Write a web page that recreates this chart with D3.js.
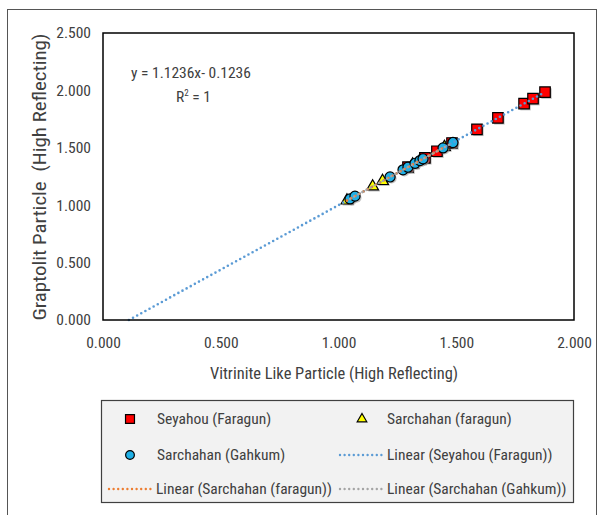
<!DOCTYPE html>
<html>
<head>
<meta charset="utf-8">
<script src="https://cdn.jsdelivr.net/npm/d3@7"></script>
<style>
  body { margin: 0; background: #fff; }
  text { font-family: "Liberation Sans Narrow", "Roboto Condensed", Roboto, sans-serif; fill: #404040; }
</style>
</head>
<body>
<div id="container"></div>
<script>
// data
var seyahouX = [1.295, 1.367, 1.418, 1.482, 1.588, 1.677, 1.788, 1.826, 1.877];
var seyahouY = [1.331, 1.413, 1.470, 1.542, 1.661, 1.761, 1.885, 1.928, 1.985];
var faragunX = [1.036, 1.145, 1.187, 1.315, 1.345, 1.450];
var faragunY = [1.040, 1.163, 1.210, 1.354, 1.388, 1.506];
var gahkumX = [1.049, 1.070, 1.219, 1.274, 1.295, 1.325, 1.346, 1.359, 1.444, 1.486];
var gahkumY = [1.055, 1.079, 1.246, 1.308, 1.331, 1.365, 1.389, 1.404, 1.499, 1.546];
var xTicks = [0, 0.5, 1.0, 1.5, 2.0];
var yTicks = [0, 0.5, 1.0, 1.5, 2.0, 2.5];
var trendSlope = 1.1236, trendIntercept = -0.1236;
var legendNames = ["Seyahou (Faragun)", "Sarchahan (faragun)", "Sarchahan (Gahkum)",
  "Linear (Seyahou (Faragun))", "Linear (Sarchahan (faragun))", "Linear (Sarchahan (Gahkum))"];

var width = 600, height = 515;
var svg = d3.select("#container").append("svg")
  .attr("width", width).attr("height", height);

// outer chart border
svg.append("rect")
  .attr("x", 7.5).attr("y", 9.5).attr("width", 589).attr("height", 520)
  .attr("fill", "none").attr("stroke", "#555").attr("stroke-width", 1);

var x = d3.scaleLinear().domain([0, 2]).range([103, 574]);
var y = d3.scaleLinear().domain([0, 2.5]).range([320, 33]);

svg.append("g")
  .attr("transform", "translate(0,328)")
  .call(d3.axisBottom(x).tickValues(xTicks).tickFormat(d3.format(".3f")).tickSize(0).tickPadding(9))
  .call(g => g.select(".domain").remove())
  .selectAll("text").style("font-size", "15.5px").attr("fill", "#404040");

svg.append("g")
  .attr("transform", "translate(97,0)")
  .call(d3.axisLeft(y).tickValues(yTicks).tickFormat(d3.format(".3f")).tickSize(0).tickPadding(6))
  .call(g => g.select(".domain").remove())
  .selectAll("text").style("font-size", "15.5px").attr("fill", "#404040");

svg.append("text")
  .attr("x", 334).attr("y", 379)
  .attr("textLength", 248).attr("lengthAdjust", "spacingAndGlyphs")
  .style("text-anchor", "middle").style("font-size", "16.5px")
  .text("Vitrinite Like Particle (High Reflecting)");

svg.append("text")
  .attr("transform", "translate(46,177) rotate(-90)")
  .attr("textLength", 287).attr("lengthAdjust", "spacingAndGlyphs")
  .style("text-anchor", "middle").style("font-size", "18px")
  .text("Graptolit Particle\u00a0 (High Reflecting)");

function fit(xs, ys) {
  var mx = d3.mean(xs), my = d3.mean(ys);
  var sxy = d3.sum(xs, (v, i) => (v - mx) * (ys[i] - my));
  var sxx = d3.sum(xs, v => (v - mx) * (v - mx));
  var m = sxy / sxx;
  return [m, my - m * mx];
}

var line = d3.line().x(d => x(d[0])).y(d => y(d[1]));
function trend(x0, x1, m, b, color) {
  svg.append("path")
    .attr("d", line([[x0, m * x0 + b], [x1, m * x1 + b]]))
    .attr("fill", "none").attr("stroke", color)
    .attr("stroke-width", 2.6).attr("stroke-linecap", "round")
    .attr("stroke-dasharray", "0,4.7");
}

var shadow = "#9a9a9a";
function drawPoints(xs, ys, type, size, fill) {
  var sym = d3.symbol().type(type).size(size);
  var pts = xs.map((v, i) => [v, ys[i]]);
  svg.append("g").selectAll("path").data(pts).enter().append("path")
    .attr("transform", d => "translate(" + (x(d[0]) + 1.5) + "," + (y(d[1]) + 1.5) + ")")
    .attr("d", sym).attr("fill", shadow).attr("opacity", 0.6);
  svg.append("g").selectAll("path").data(pts).enter().append("path")
    .attr("transform", d => "translate(" + x(d[0]) + "," + y(d[1]) + ")")
    .attr("d", sym).attr("fill", fill)
    .attr("stroke", "#000").attr("stroke-width", 1.2);
}

drawPoints(seyahouX, seyahouY, d3.symbolSquare, 110, "#ff0000");
drawPoints(faragunX, faragunY, d3.symbolTriangle, 60, "#ffff00");
drawPoints(gahkumX, gahkumY, d3.symbolCircle, 80, "#1fb0e6");

trend(-trendIntercept / trendSlope, d3.max(seyahouX), trendSlope, trendIntercept, "#5b9bd5");
var fo = fit(faragunX, faragunY);
trend(d3.min(faragunX), d3.max(faragunX), fo[0], fo[1], "#ed7d31");
var fg = fit(gahkumX, gahkumY);
trend(d3.min(gahkumX), d3.max(gahkumX), fg[0], fg[1], "#a5a5a5");

// plot area border
svg.append("rect")
  .attr("x", x(0)).attr("y", y(2.5))
  .attr("width", x(2) - x(0)).attr("height", y(0) - y(2.5))
  .attr("fill", "none").attr("stroke", "#000").attr("stroke-width", 1.5);

// equation
svg.append("text").attr("x", 131).attr("y", 78).style("font-size", "15.5px")
  .text("y = " + trendSlope + "x- " + (-trendIntercept));
svg.append("text").attr("x", 176).attr("y", 102).style("font-size", "15.5px")
  .html("R<tspan dy='-6' font-size='9px'>2</tspan><tspan dy='6'> = 1</tspan>");

// legend
var lg = svg.append("g");
lg.append("rect")
  .attr("x", 101.5).attr("y", 400.5).attr("width", 472).attr("height", 102)
  .attr("fill", "#f2f2f2").attr("stroke", "#404040").attr("stroke-width", 1.2);

var rows = [419, 455, 489];
function legText(tx, ty, s) {
  lg.append("text").attr("x", tx).attr("y", ty).attr("dy", "0.35em")
    .style("font-size", "15.5px").text(s);
}
function legSym(cx, cy, type, size, fill) {
  lg.append("path").attr("transform", "translate(" + cx + "," + cy + ")")
    .attr("d", d3.symbol().type(type).size(size)).attr("fill", fill)
    .attr("stroke", "#000").attr("stroke-width", 1.2);
}
function legLine(x0, x1, cy, color) {
  lg.append("line").attr("x1", x0).attr("x2", x1).attr("y1", cy).attr("y2", cy)
    .attr("stroke", color).attr("stroke-width", 2.4).attr("stroke-linecap", "round")
    .attr("stroke-dasharray", "0,4.6");
}
legSym(130, rows[0], d3.symbolSquare, 80, "#ff0000");
legText(157, rows[0], legendNames[0]);
legSym(362, rows[0], d3.symbolTriangle, 40, "#ffff00");
legText(387, rows[0], legendNames[1]);
legSym(130, rows[1], d3.symbolCircle, 60, "#1fb0e6");
legText(157, rows[1], legendNames[2]);
legLine(340, 383, rows[1], "#5b9bd5");
legText(387, rows[1], legendNames[3]);
legLine(109, 152, rows[2], "#ed7d31");
legText(156, rows[2], legendNames[4]);
legLine(340, 383, rows[2], "#a5a5a5");
legText(387, rows[2], legendNames[5]);
</script>
</body>
</html>
